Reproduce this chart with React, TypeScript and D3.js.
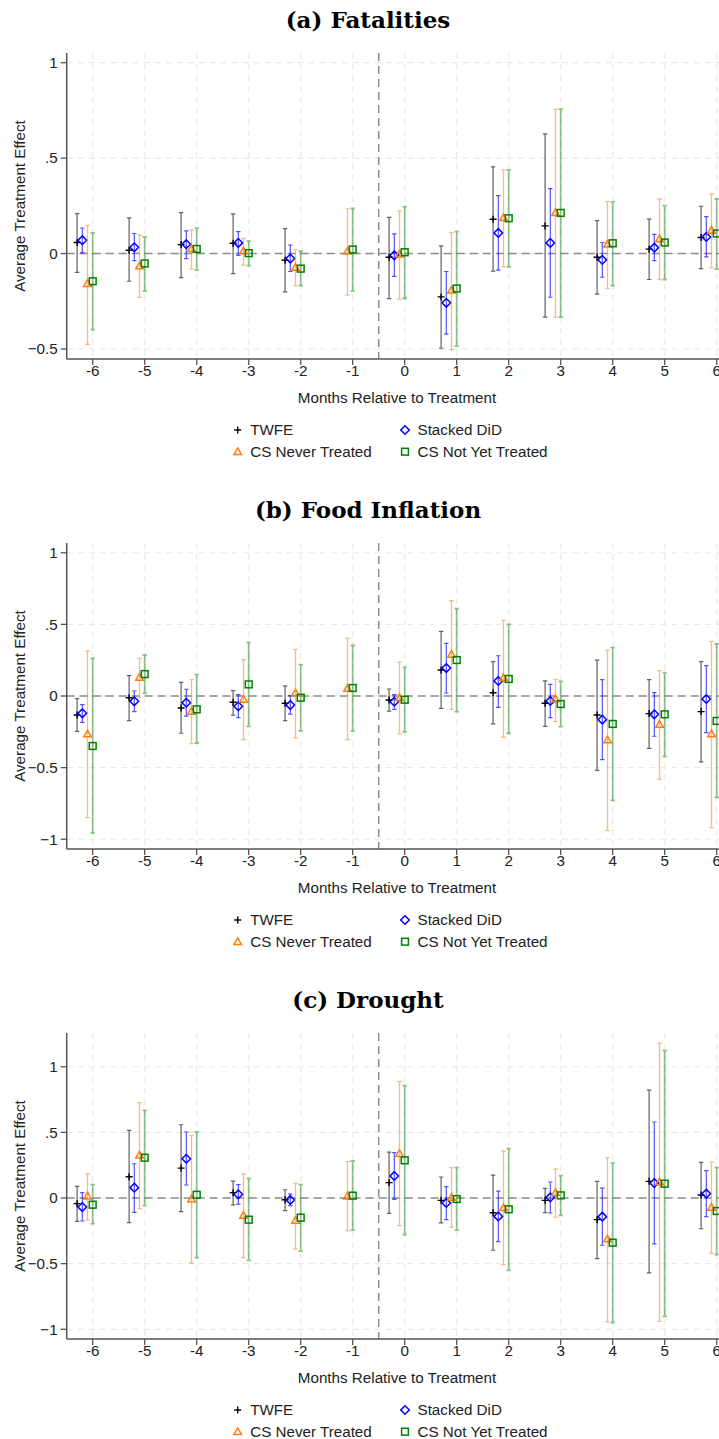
import React from "react";
import * as d3 from "d3";

type Est = [number, number, number] | null; // [estimate, lower, upper]

const months = [-6, -5, -4, -3, -2, -1, 0, 1, 2, 3, 4, 5, 6];
const xTicks = months;

const seriesNames = ["TWFE", "Stacked DiD", "CS Never Treated", "CS Not Yet Treated"];

// (a) Fatalities
const fatalTwfe: Est[] = [
  [0.058, -0.099, 0.209], [0.017, -0.145, 0.187], [0.047, -0.126, 0.215], [0.054, -0.105, 0.208],
  [-0.035, -0.201, 0.131], null, [-0.019, -0.236, 0.19], [-0.227, -0.496, 0.04],
  [0.18, -0.092, 0.454], [0.145, -0.333, 0.627], [-0.019, -0.213, 0.173], [0.023, -0.136, 0.18],
  [0.084, -0.079, 0.248],
];
const fatalStacked: Est[] = [
  [0.07, 0.005, 0.134], [0.033, -0.037, 0.105], [0.049, -0.026, 0.119], [0.056, -0.009, 0.115],
  [-0.026, -0.094, 0.045], null, [-0.009, -0.119, 0.103], [-0.258, -0.422, -0.094],
  [0.108, -0.087, 0.304], [0.056, -0.229, 0.34], [-0.033, -0.124, 0.058], [0.031, -0.037, 0.101],
  [0.087, -0.017, 0.194],
];
const fatalCsNever: Est[] = [
  [-0.157, -0.475, 0.148], [-0.065, -0.23, 0.096], [0.026, -0.08, 0.124], [0.014, -0.061, 0.079],
  [-0.072, -0.168, 0.021], [0.012, -0.218, 0.234], [-0.003, -0.239, 0.223], [-0.192, -0.503, 0.11],
  [0.188, -0.068, 0.438], [0.215, -0.333, 0.757], [0.049, -0.183, 0.272], [0.077, -0.136, 0.286],
  [0.122, -0.075, 0.312],
];
const fatalCsNyt: Est[] = [
  [-0.145, -0.398, 0.108], [-0.052, -0.197, 0.087], [0.024, -0.087, 0.133], [0.002, -0.063, 0.065],
  [-0.079, -0.168, 0.012], [0.021, -0.195, 0.236], [0.007, -0.234, 0.246], [-0.183, -0.485, 0.115],
  [0.185, -0.07, 0.438], [0.213, -0.333, 0.757], [0.054, -0.168, 0.271], [0.058, -0.136, 0.251],
  [0.105, -0.082, 0.286],
];

// (b) Food Inflation
const foodTwfe: Est[] = [
  [-0.133, -0.247, -0.019], [-0.012, -0.172, 0.142], [-0.084, -0.26, 0.095], [-0.044, -0.133, 0.037],
  [-0.051, -0.172, 0.07], null, [-0.028, -0.105, 0.049], [0.181, -0.086, 0.451],
  [0.023, -0.195, 0.24], [-0.051, -0.212, 0.105], [-0.133, -0.519, 0.251], [-0.123, -0.365, 0.114],
  [-0.109, -0.46, 0.24],
];
const foodStacked: Est[] = [
  [-0.121, -0.184, -0.06], [-0.037, -0.109, 0.035], [-0.047, -0.14, 0.047], [-0.072, -0.151, 0.009],
  [-0.063, -0.126, 0.002], null, [-0.04, -0.093, 0.009], [0.195, 0.021, 0.367],
  [0.105, -0.079, 0.281], [-0.035, -0.151, 0.081], [-0.165, -0.444, 0.114], [-0.128, -0.281, 0.023],
  [-0.021, -0.256, 0.212],
];
const foodCsNever: Est[] = [
  [-0.265, -0.849, 0.314], [0.13, -0.012, 0.263], [-0.107, -0.333, 0.114], [-0.023, -0.305, 0.253],
  [0.021, -0.293, 0.326], [0.053, -0.305, 0.402], [-0.012, -0.265, 0.237], [0.291, -0.093, 0.665],
  [0.128, -0.288, 0.528], [-0.021, -0.179, 0.116], [-0.307, -0.94, 0.319], [-0.198, -0.581, 0.177],
  [-0.265, -0.919, 0.381],
];
const foodCsNyt: Est[] = [
  [-0.349, -0.956, 0.263], [0.153, 0.019, 0.286], [-0.093, -0.328, 0.149], [0.081, -0.212, 0.372],
  [-0.012, -0.244, 0.219], [0.056, -0.244, 0.353], [-0.026, -0.251, 0.2], [0.251, -0.109, 0.609],
  [0.119, -0.26, 0.5], [-0.056, -0.214, 0.102], [-0.195, -0.728, 0.337], [-0.128, -0.421, 0.163],
  [-0.174, -0.707, 0.363],
];

// (c) Drought
const droughtTwfe: Est[] = [
  [-0.043, -0.178, 0.089], [0.162, -0.188, 0.515], [0.228, -0.104, 0.558], [0.041, -0.053, 0.129],
  [-0.013, -0.096, 0.063], null, [0.117, -0.117, 0.35], [-0.018, -0.19, 0.16],
  [-0.112, -0.398, 0.175], [-0.018, -0.112, 0.074], [-0.165, -0.462, 0.127], [0.127, -0.571, 0.822],
  [0.023, -0.234, 0.272],
];
const droughtStacked: Est[] = [
  [-0.069, -0.175, 0.041], [0.079, -0.109, 0.261], [0.299, 0.099, 0.503], [0.028, -0.046, 0.102],
  [-0.015, -0.058, 0.03], null, [0.168, -0.01, 0.345], [-0.038, -0.165, 0.086],
  [-0.14, -0.332, 0.053], [0.005, -0.114, 0.122], [-0.142, -0.36, 0.076], [0.114, -0.35, 0.579],
  [0.033, -0.142, 0.208],
];
const droughtCsNever: Est[] = [
  [0.015, -0.168, 0.185], [0.327, -0.081, 0.726], [-0.008, -0.495, 0.475], [-0.132, -0.454, 0.183],
  [-0.17, -0.388, 0.112], [0.015, -0.251, 0.277], [0.338, -0.211, 0.888], [0.005, -0.221, 0.231],
  [-0.074, -0.508, 0.358], [0.041, -0.145, 0.221], [-0.312, -0.944, 0.307], [0.122, -0.939, 1.18],
  [-0.071, -0.421, 0.274],
];
const droughtCsNyt: Est[] = [
  [-0.051, -0.195, 0.102], [0.307, -0.058, 0.668], [0.025, -0.454, 0.503], [-0.165, -0.475, 0.147],
  [-0.15, -0.404, 0.102], [0.018, -0.244, 0.282], [0.287, -0.279, 0.855], [-0.008, -0.244, 0.231],
  [-0.086, -0.551, 0.376], [0.02, -0.132, 0.17], [-0.34, -0.949, 0.266], [0.109, -0.901, 1.122],
  [-0.099, -0.431, 0.231],
];

const fatalYTicks = [-0.5, 0, 0.5, 1];
const foodYTicks = [-1, -0.5, 0, 0.5, 1];
const droughtYTicks = [-1, -0.5, 0, 0.5, 1];

// Plot frame shared by every panel (offset vertically per panel)
const W = 719;
const H = 1439;
const PANEL_STEP = 490;
const PLOT_LEFT = 66.7;
const PLOT_RIGHT = 742.7;
const PLOT_TOP = 53;
const PLOT_BOTTOM = 359;

const SERIES_OFFSETS = [-0.3, -0.2, -0.1, 0];
const CI_STYLES = [
  { stroke: "rgba(0,0,0,0.62)", width: 1.2 },
  { stroke: "rgba(0,0,255,0.68)", width: 1.2 },
  { stroke: "rgba(255,127,14,0.55)", width: 1.3 },
  { stroke: "rgba(0,128,0,0.45)", width: 1.8 },
];
const MARKER_COLORS = ["#000000", "#0000ff", "#ff7f0e", "#008000"];

const FONT = "'Liberation Sans', Arial, sans-serif";
const FS = 15.2;

function Marker({ kind, x, y }: { kind: number; x: number; y: number }) {
  const c = MARKER_COLORS[kind];
  if (kind === 0) {
    const s = 3.5;
    return (
      <path
        d={`M${x - s},${y}H${x + s}M${x},${y - s}V${y + s}`}
        stroke={c}
        strokeWidth={1.4}
        fill="none"
      />
    );
  }
  if (kind === 1) {
    const s = 4.3;
    return (
      <path
        d={`M${x},${y - s}L${x + s},${y}L${x},${y + s}L${x - s},${y}Z`}
        stroke={c}
        strokeWidth={1.5}
        fill="none"
      />
    );
  }
  if (kind === 2) {
    const s = 3.8;
    return (
      <path
        d={`M${x},${y - s}L${x + s},${y + s * 0.75}L${x - s},${y + s * 0.75}Z`}
        stroke={c}
        strokeWidth={1.5}
        fill="none"
      />
    );
  }
  const s = 3.4;
  return (
    <rect
      x={x - s}
      y={y - s}
      width={2 * s}
      height={2 * s}
      stroke={c}
      strokeWidth={1.5}
      fill="none"
    />
  );
}

function Panel({
  index,
  title,
  series,
  yDomain,
  yTicks,
}: {
  index: number;
  title: string;
  series: Est[][];
  yDomain: [number, number];
  yTicks: number[];
}) {
  const oy = index * PANEL_STEP;
  const x = d3.scaleLinear().domain([-6.5, 6.5]).range([PLOT_LEFT, PLOT_RIGHT]);
  const y = d3
    .scaleLinear()
    .domain(yDomain)
    .range([oy + PLOT_BOTTOM, oy + PLOT_TOP]);
  const fmt = (v: number) => (v === 0 ? "0" : d3.format("")(v).replace(/^(-?)0\./, "$1."));
  const capHalf = 2.2;

  return (
    <g>
      <text
        x={368}
        y={oy + 28}
        textAnchor="middle"
        fontFamily="'DejaVu Serif', serif"
        fontWeight="bold"
        fontSize={23}
        fill="#000"
      >
        {title}
      </text>

      {/* grid */}
      {xTicks.map((t) => (
        <line
          key={`gx${t}`}
          x1={x(t)}
          x2={x(t)}
          y1={oy + PLOT_TOP}
          y2={oy + PLOT_BOTTOM}
          stroke="#e9e9e9"
          strokeWidth={1.2}
          strokeDasharray="6,5"
        />
      ))}
      {yTicks.map((t) => (
        <line
          key={`gy${t}`}
          x1={PLOT_LEFT}
          x2={PLOT_RIGHT}
          y1={y(t)}
          y2={y(t)}
          stroke="#e9e9e9"
          strokeWidth={1.2}
          strokeDasharray="6,5"
        />
      ))}

      {/* reference lines */}
      <line
        x1={PLOT_LEFT}
        x2={PLOT_RIGHT}
        y1={y(0)}
        y2={y(0)}
        stroke="#8c8c8c"
        strokeWidth={1.5}
        strokeDasharray="8,5"
      />
      <line
        x1={x(-0.5)}
        x2={x(-0.5)}
        y1={oy + PLOT_TOP}
        y2={oy + PLOT_BOTTOM}
        stroke="#8c8c8c"
        strokeWidth={1.5}
        strokeDasharray="8,5"
      />

      {/* estimates with confidence intervals */}
      {series.map((s, k) => (
        <g key={`s${k}`}>
          {s.map((e, i) => {
            if (!e) return null;
            const cx = x(months[i] + SERIES_OFFSETS[k]);
            const st = CI_STYLES[k];
            return (
              <path
                key={i}
                d={`M${cx},${y(e[1])}V${y(e[2])}M${cx - capHalf},${y(e[1])}H${cx + capHalf}M${cx - capHalf},${y(e[2])}H${cx + capHalf}`}
                stroke={st.stroke}
                strokeWidth={st.width}
                fill="none"
              />
            );
          })}
          {s.map((e, i) => {
            if (!e) return null;
            const cx = x(months[i] + SERIES_OFFSETS[k]);
            return <Marker key={`m${i}`} kind={k} x={cx} y={y(e[0])} />;
          })}
        </g>
      ))}

      {/* axes */}
      <line
        x1={PLOT_LEFT}
        x2={PLOT_LEFT}
        y1={oy + PLOT_TOP}
        y2={oy + PLOT_BOTTOM}
        stroke="#555"
        strokeWidth={1.5}
      />
      <line
        x1={PLOT_LEFT}
        x2={PLOT_RIGHT}
        y1={oy + PLOT_BOTTOM}
        y2={oy + PLOT_BOTTOM}
        stroke="#555"
        strokeWidth={1.5}
      />
      {yTicks.map((t) => (
        <g key={`ty${t}`}>
          <line x1={PLOT_LEFT - 6} x2={PLOT_LEFT} y1={y(t)} y2={y(t)} stroke="#555" strokeWidth={1.3} />
          <text
            x={PLOT_LEFT - 9}
            y={y(t)}
            dy="0.35em"
            textAnchor="end"
            fontFamily={FONT}
            fontSize={FS}
            fill="#222"
          >
            {fmt(t)}
          </text>
        </g>
      ))}
      {xTicks.map((t) => (
        <g key={`tx${t}`}>
          <line
            x1={x(t)}
            x2={x(t)}
            y1={oy + PLOT_BOTTOM}
            y2={oy + PLOT_BOTTOM + 6}
            stroke="#555"
            strokeWidth={1.3}
          />
          <text
            x={x(t)}
            y={oy + PLOT_BOTTOM + 17}
            textAnchor="middle"
            fontFamily={FONT}
            fontSize={FS}
            fill="#222"
          >
            {t}
          </text>
        </g>
      ))}
      <text
        x={397}
        y={oy + 403}
        textAnchor="middle"
        fontFamily={FONT}
        fontSize={FS}
        fill="#222"
      >
        Months Relative to Treatment
      </text>
      <text
        transform={`translate(25,${oy + (PLOT_TOP + PLOT_BOTTOM) / 2}) rotate(-90)`}
        textAnchor="middle"
        fontFamily={FONT}
        fontSize={FS}
        fill="#222"
      >
        Average Treatment Effect
      </text>

      {/* legend */}
      {seriesNames.map((name, k) => {
        const col = k % 2;
        const row = Math.floor(k / 2);
        const mx = col === 0 ? 237.7 : 405;
        const my = oy + 430 + row * 21.7;
        return (
          <g key={name}>
            <Marker kind={k} x={mx} y={my} />
            <text
              x={mx + 12.5}
              y={my}
              dy="0.35em"
              fontFamily={FONT}
              fontSize={FS}
              fill="#222"
            >
              {name}
            </text>
          </g>
        );
      })}
    </g>
  );
}

export default function App() {
  return (
    <div style={{ position: "absolute", left: 0, top: 0, width: W, height: H, overflow: "hidden", background: "#fff" }}>
      <svg width={W} height={H} style={{ display: "block" }}>
        <rect width={W} height={H} fill="#fff" />
        <Panel
          index={0}
          title="(a) Fatalities"
          series={[fatalTwfe, fatalStacked, fatalCsNever, fatalCsNyt]}
          yDomain={[-0.5524, 1.0508]}
          yTicks={fatalYTicks}
        />
        <Panel
          index={1}
          title="(b) Food Inflation"
          series={[foodTwfe, foodStacked, foodCsNever, foodCsNyt]}
          yDomain={[-1.068, 1.068]}
          yTicks={foodYTicks}
        />
        <Panel
          index={2}
          title="(c) Drought"
          series={[droughtTwfe, droughtStacked, droughtCsNever, droughtCsNyt]}
          yDomain={[-1.074, 1.257]}
          yTicks={droughtYTicks}
        />
      </svg>
    </div>
  );
}
